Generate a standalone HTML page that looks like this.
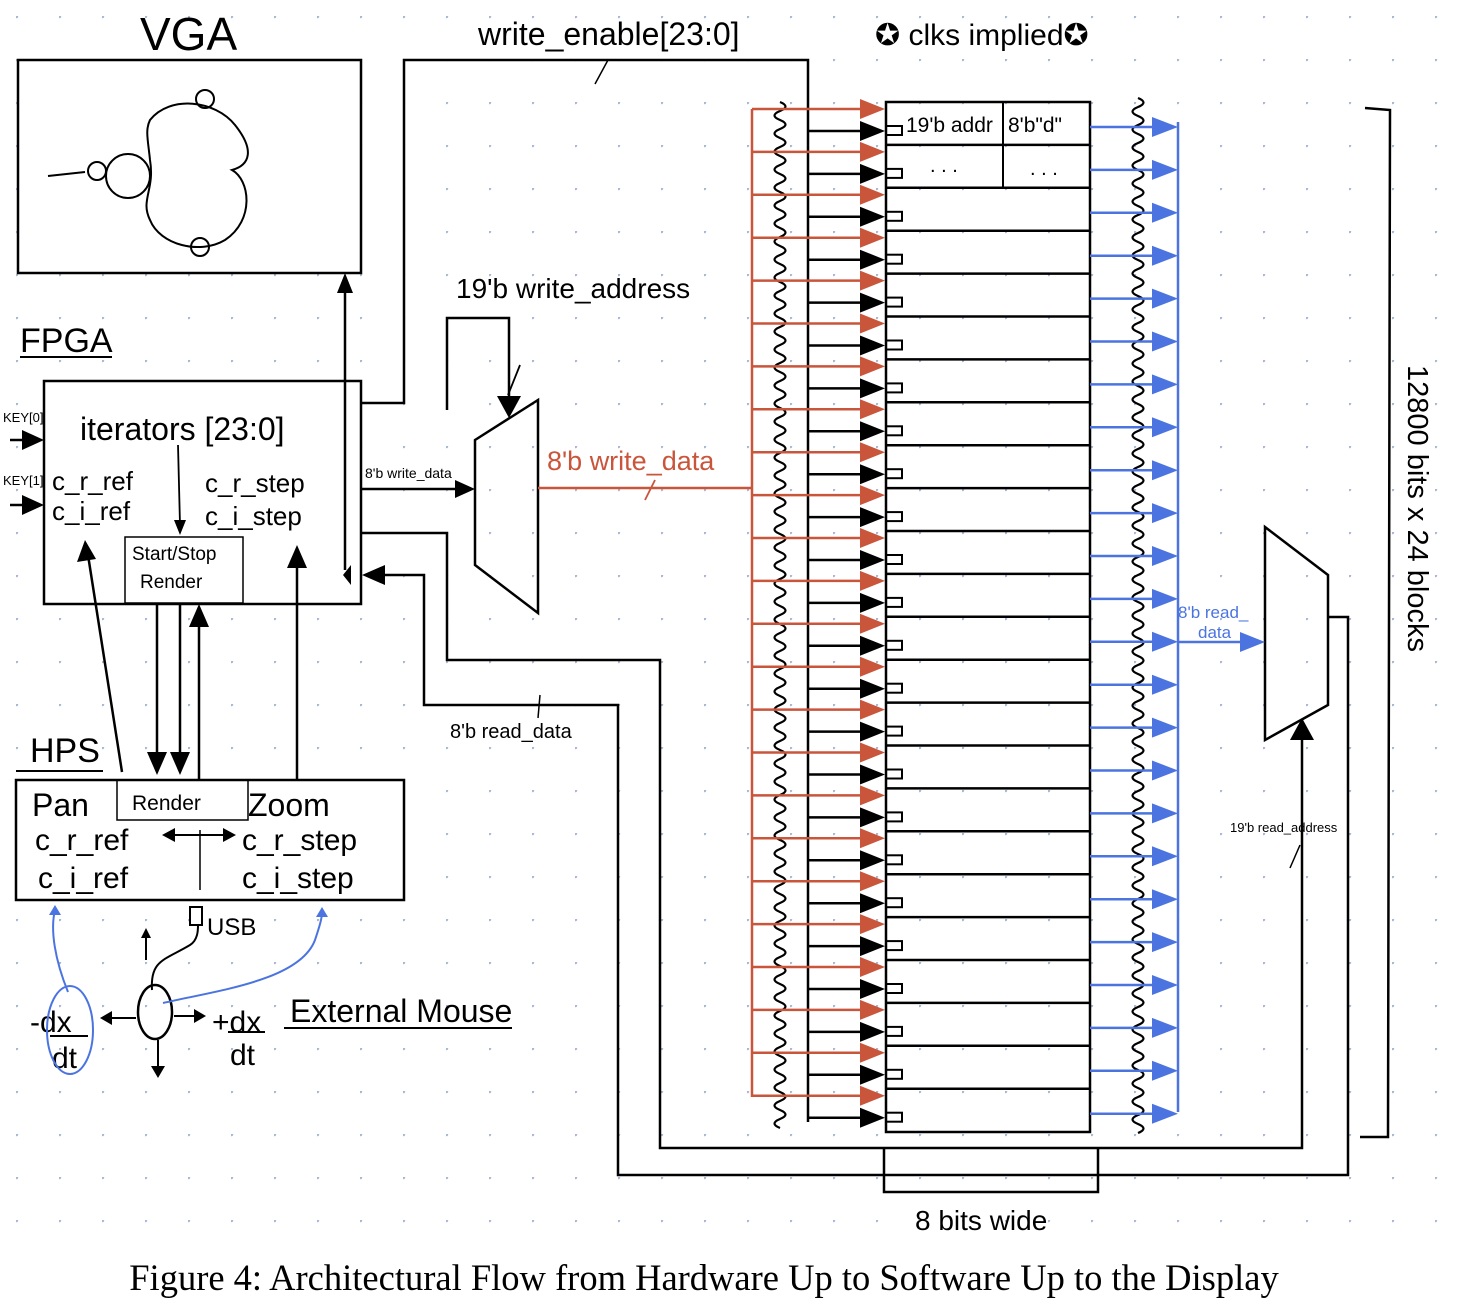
<!DOCTYPE html>
<html><head><meta charset="utf-8"><style>
html,body{margin:0;padding:0;background:#fff}
svg{display:block}
text{font-family:"Liberation Sans",sans-serif;fill:#000}
</style></head><body>
<svg id="s" width="1468" height="1310" viewBox="0 0 1468 1310" xmlns="http://www.w3.org/2000/svg">
<defs>
<pattern id="dots" x="16" y="16" width="43" height="43" patternUnits="userSpaceOnUse"><circle cx="0.5" cy="0.5" r="1.7" fill="#a9b6d6"/></pattern>
</defs>
<rect x="0" y="0" width="1468" height="1240" fill="url(#dots)"/>

<!-- VGA -->
<text x="140" y="50" font-size="46">VGA</text>
<rect x="18" y="60" width="343" height="213" fill="#fff" stroke="#000" stroke-width="2.5"/>
<g stroke="#000" stroke-width="2" fill="none">
<path d="M150 120 C170 95 215 100 235 125 C255 150 250 165 232 170 C250 180 255 220 225 240 C200 255 160 245 150 220 C140 200 155 190 150 160 C148 140 145 130 150 120Z"/>
<circle cx="128" cy="176" r="22"/><circle cx="97" cy="171" r="9"/>
<circle cx="205" cy="99" r="9"/><circle cx="200" cy="247" r="9"/>
<path d="M48 176 L85 172"/>
</g>
<!-- FPGA -->
<text x="20" y="352" font-size="34">FPGA</text>
<line x1="20" y1="357" x2="112" y2="357" stroke="#000" stroke-width="2"/>
<rect x="44" y="381" width="317" height="223" fill="#fff" stroke="#000" stroke-width="2.5"/>
<text x="3" y="422" font-size="13">KEY[0]</text>
<text x="3" y="485" font-size="13">KEY[1]</text>
<text x="80" y="440" font-size="32">iterators [23:0]</text>
<text x="52" y="490" font-size="26">c_r_ref</text>
<text x="52" y="520" font-size="26">c_i_ref</text>
<text x="205" y="492" font-size="26">c_r_step</text>
<text x="205" y="525" font-size="26">c_i_step</text>
<rect x="125" y="537" width="118" height="66" fill="none" stroke="#000" stroke-width="1.5"/>
<text x="132" y="560" font-size="19">Start/Stop</text>
<text x="140" y="588" font-size="19">Render</text>
<!-- HPS -->
<text x="30" y="762" font-size="34">HPS</text>
<line x1="16" y1="771" x2="103" y2="771" stroke="#000" stroke-width="2"/>
<rect x="16" y="780" width="388" height="120" fill="#fff" stroke="#000" stroke-width="2.5"/>
<rect x="117" y="780" width="131" height="40" fill="none" stroke="#000" stroke-width="1.5"/>
<text x="132" y="810" font-size="21">Render</text>
<text x="32" y="816" font-size="32">Pan</text>
<text x="248" y="816" font-size="32">Zoom</text>
<text x="35" y="850" font-size="30">c_r_ref</text>
<text x="38" y="888" font-size="30">c_i_ref</text>
<text x="242" y="850" font-size="30">c_r_step</text>
<text x="242" y="888" font-size="30">c_i_step</text>
<text x="207" y="935" font-size="24">USB</text>
<text x="290" y="1022" font-size="32">External Mouse</text>
<line x1="284" y1="1028" x2="512" y2="1028" stroke="#000" stroke-width="2"/>
<text x="30" y="1032" font-size="30">-dx</text>
<text x="52" y="1068" font-size="30">dt</text>
<text x="212" y="1032" font-size="30">+dx</text>
<text x="230" y="1065" font-size="30">dt</text>
<line x1="50" y1="1036" x2="88" y2="1036" stroke="#000" stroke-width="2"/>
<line x1="228" y1="1032" x2="265" y2="1032" stroke="#000" stroke-width="2"/>
<ellipse cx="70" cy="1030" rx="23" ry="44" fill="none" stroke="#4b74e0" stroke-width="2"/>
<ellipse cx="155" cy="1012" rx="17" ry="27" fill="none" stroke="#000" stroke-width="2.5"/>
<g stroke="#000" stroke-width="2" fill="none">
<path d="M152 990 C150 960 165 960 190 945 C198 940 198 930 198 925"/>
<rect x="190" y="907" width="12" height="18"/>
<line x1="146" y1="960" x2="146" y2="935"/>
<line x1="136" y1="1018" x2="108" y2="1018"/>
<line x1="174" y1="1016" x2="200" y2="1016"/>
<line x1="158" y1="1040" x2="158" y2="1070"/>
</g>
<g fill="#000"><path d="M100 1018 L112 1011 L112 1025Z"/><path d="M206 1016 L194 1009 L194 1023Z"/><path d="M158 1078 L151 1066 L165 1066Z"/><path d="M146 928 L141 938 L151 938Z"/></g>
<g stroke="#4b74e0" stroke-width="2" fill="none">
<path d="M68 992 C55 960 50 930 55 910"/>
<path d="M163 1003 C220 990 300 980 315 940 C320 925 322 918 322 912"/>
</g>
<g fill="#4b74e0"><path d="M55 905 L49 915 L61 915Z"/><path d="M322 907 L316 917 L328 917Z"/></g>

<!-- labels -->
<text x="478" y="45" font-size="32">write_enable[23:0]</text>
<text x="875" y="45" font-size="30">✪ clks  implied✪</text>
<text x="456" y="298" font-size="28">19'b write_address</text>
<text x="365" y="478" font-size="14">8'b write_data</text>
<text x="547" y="470" font-size="27" style="fill:#c9553b">8'b write_data</text>
<text x="450" y="738" font-size="20">8'b read_data</text>
<text x="1178" y="618" font-size="17" style="fill:#4b74e0">8'b read_</text>
<text x="1198" y="638" font-size="17" style="fill:#4b74e0">data</text>
<text x="1230" y="832" font-size="13">19'b read_address</text>
<text x="915" y="1230" font-size="28">8 bits wide</text>
<text x="906" y="132" font-size="21">19'b addr</text>
<text x="1008" y="132" font-size="21">8'b"d"</text>
<text x="930" y="172" font-size="20">. . .</text>
<text x="1030" y="175" font-size="20">. . .</text>
<text transform="translate(1408,365) rotate(90)" font-size="29">12800 bits x 24 blocks</text>
<text x="704" y="1290" font-size="36.5" text-anchor="middle" style="font-family:'Liberation Serif',serif">Figure 4: Architectural Flow from Hardware Up to Software Up to the Display</text>

<g stroke="#000" stroke-width="2.5" fill="none">
<path d="M475 440 L538 400 L538 613 L475 565Z"/>
<path d="M1265 527 L1328 575 L1328 705 L1265 740Z"/>
<polyline points="362,403 404,403 404,60 808,60 808,1122"/>
<polyline points="447,410 447,318 509,318 509,405"/>
<line x1="362" y1="489" x2="465" y2="489"/>
<polyline points="362,533 447,533 447,660 660,660 660,1148 1302,1148 1302,735"/>
<polyline points="1328,617 1348,617 1348,1175 618,1175 618,705 424,705 424,575 375,575"/>
<line x1="345" y1="285" x2="345" y2="570"/>
<line x1="157" y1="604" x2="157" y2="755"/>
<line x1="180" y1="604" x2="180" y2="755"/>
<line x1="199" y1="780" x2="199" y2="620"/>
<line x1="297" y1="780" x2="297" y2="560"/>
<line x1="122" y1="772" x2="88" y2="555"/>
<line x1="200" y1="830" x2="200" y2="890" stroke-width="1.5"/>
<line x1="165" y1="835" x2="230" y2="835" stroke-width="2"/>
<line x1="10" y1="440" x2="35" y2="440"/><line x1="10" y1="505" x2="35" y2="505"/>
<line x1="178" y1="445" x2="180" y2="525" stroke-width="1.8"/>
<polyline points="1365,108 1390,110 1388,1137 1360,1137"/>
<polyline points="884,1148 884,1192 1098,1192 1098,1148"/>
<line x1="608" y1="60" x2="595" y2="84" stroke-width="1.5"/>
<line x1="520" y1="365" x2="508" y2="395" stroke-width="1.8"/>
<line x1="655" y1="480" x2="645" y2="500" stroke="#c9553b" stroke-width="1.8"/>
<line x1="540" y1="695" x2="538" y2="718" stroke-width="1.5"/>
<line x1="1300" y1="845" x2="1290" y2="868" stroke-width="1.5"/>
</g>
<line x1="538" y1="488" x2="752" y2="488" stroke="#c9553b" stroke-width="2.5"/>
<g fill="#000">
<path d="M475 489 L455 480 L455 498Z"/>
<path d="M509 418 L497 396 L521 396Z"/>
<path d="M345 273 L337 293 L353 293Z"/>
<path d="M362 575 L385 565 L385 585Z"/>
<path d="M343 575 L351 565 L351 585Z"/>
<path d="M1302 718 L1290 740 L1314 740Z"/>
<path d="M157 775 L147 752 L167 752Z"/><path d="M180 775 L170 752 L190 752Z"/>
<path d="M199 604 L189 627 L209 627Z"/><path d="M297 545 L287 568 L307 568Z"/>
<path d="M85 540 L77 562 L96 559Z"/>
<path d="M44 440 L22 430 L22 450Z"/><path d="M44 505 L22 495 L22 515Z"/>
<path d="M180 535 L174 520 L186 520Z"/>
<path d="M162 835 L175 828 L175 842Z"/><path d="M236 835 L223 828 L223 842Z"/>
</g>
<g id="mem"></g>
</svg>
<script>
(function(){
var m=document.getElementById('mem'),h='';
var top=102,rh=42.9,n=24;
h+='<rect x="886" y="102" width="204" height="1030" fill="none" stroke="#000" stroke-width="2.5"/>';
h+='<line x1="1003" y1="102" x2="1003" y2="188" stroke="#000" stroke-width="2"/>';
h+='<line x1="752" y1="109" x2="752" y2="1097" stroke="#c9553b" stroke-width="2.5"/>';
h+='<line x1="1178" y1="122" x2="1178" y2="1112" stroke="#4b74e0" stroke-width="2.5"/>';
function wave(x,y0,y1){var d='M'+x+' '+y0,i=0;for(var y=y0;y<y1;y+=9){d+=' q'+((i++%2)?-11:11)+' 4.5 0 9';}return '<path d="'+d+'" fill="none" stroke="#000" stroke-width="2.2"/>';}
h+=wave(780,102,1128);h+=wave(1138,98,1128);
for(var k=0;k<n;k++){
 var y=top+k*rh;
 if(k>0)h+='<line x1="886" y1="'+y+'" x2="1090" y2="'+y+'" stroke="#000" stroke-width="2.5"/>';
 var r=y+7,b=y+29,bl=y+25;
 h+='<line x1="752" y1="'+r+'" x2="866" y2="'+r+'" stroke="#c9553b" stroke-width="2.5"/>';
 h+='<path d="M885 '+r+' L860 '+(r-10)+' L860 '+(r+10)+'Z" fill="#c9553b"/>';
 h+='<line x1="808" y1="'+b+'" x2="866" y2="'+b+'" stroke="#000" stroke-width="2.5"/>';
 h+='<path d="M885 '+b+' L860 '+(b-10)+' L860 '+(b+10)+'Z" fill="#000"/>';
 h+='<rect x="886" y="'+(b-5)+'" width="16" height="9" fill="none" stroke="#000" stroke-width="2"/>';
 h+='<line x1="1090" y1="'+bl+'" x2="1158" y2="'+bl+'" stroke="#4b74e0" stroke-width="2.5"/>';
 h+='<path d="M1178 '+bl+' L1152 '+(bl-10)+' L1152 '+(bl+10)+'Z" fill="#4b74e0"/>';
}
h+='<line x1="1178" y1="642" x2="1245" y2="642" stroke="#4b74e0" stroke-width="2.5"/>';
h+='<path d="M1265 642 L1240 632 L1240 652Z" fill="#4b74e0"/>';
m.innerHTML=h;
})();
</script>
</body></html>
